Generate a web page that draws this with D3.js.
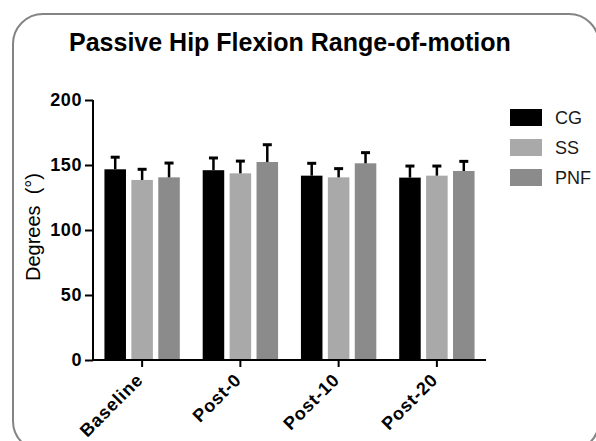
<!DOCTYPE html>
<html>
<head>
<meta charset="utf-8">
<script src="https://cdn.jsdelivr.net/npm/d3@7"></script>
<style>
  body { margin: 0; background: #fff; }
  text { font-family: "Liberation Sans", Arial, sans-serif; }
</style>
</head>
<body>
<div id="chart"></div>
<script>
const timepoints = ['Baseline', 'Post-0', 'Post-10', 'Post-20'];
const groups = ['CG', 'SS', 'PNF'];
const meanCG = [146.7, 146.0, 141.8, 140.3];
const meanSS = [138.5, 143.6, 140.5, 141.8];
const meanPNF = [140.5, 152.3, 151.3, 145.4];
const sdCG = [9.3, 9.4, 9.5, 8.9];
const sdSS = [8.2, 9.4, 6.7, 7.4];
const sdPNF = [11.0, 13.3, 8.2, 7.4];
const yTicks = [0, 50, 100, 150, 200];
const colors = ['#000000', '#a9a9a9', '#8b8b8b'];

function draw() {
  const dimensions = {
    width: 596,
    height: 441,
    margin: { top: 100, bottom: 81, left: 93, right: 110 },
  };
  dimensions.containerWidth = dimensions.width - dimensions.margin.left - dimensions.margin.right;
  dimensions.containerHeight = dimensions.height - dimensions.margin.top - dimensions.margin.bottom;

  const rows = timepoints.map((t, i) => ({
    time: t,
    values: [
      { group: 'CG', mean: meanCG[i], sd: sdCG[i] },
      { group: 'SS', mean: meanSS[i], sd: sdSS[i] },
      { group: 'PNF', mean: meanPNF[i], sd: sdPNF[i] },
    ],
  }));

  const svg = d3.select('#chart').append('svg').attr('width', dimensions.width).attr('height', dimensions.height);

  // rounded frame
  svg.append('rect')
    .attr('x', 13).attr('y', 14)
    .attr('width', 586).attr('height', 437)
    .attr('rx', 30).attr('ry', 30)
    .attr('fill', 'none').attr('stroke', '#848484').attr('stroke-width', 2);

  svg.append('text')
    .attr('x', 69).attr('y', 51)
    .attr('font-size', 25).attr('font-weight', 'bold')
    .attr('fill', '#000')
    .text('Passive Hip Flexion Range-of-motion');

  const container = svg.append('g').attr('transform', `translate(${dimensions.margin.left}, ${dimensions.margin.top})`);

  const xScale = d3.scaleBand().domain(timepoints).range([0, dimensions.containerWidth]);
  const xInner = d3.scaleBand().domain(groups).range([0, xScale.bandwidth()]).paddingInner(0.2).paddingOuter(0.425);
  const yScale = d3.scaleLinear().domain([0, 200]).range([dimensions.containerHeight, 0]);
  const color = d3.scaleOrdinal().domain(groups).range(colors);

  const groupSel = container.selectAll('g.grp')
    .data(rows)
    .join('g')
    .attr('class', 'grp')
    .attr('transform', (d) => `translate(${xScale(d.time)},0)`);

  groupSel.selectAll('rect')
    .data((d) => d.values)
    .join('rect')
    .attr('x', (d) => xInner(d.group))
    .attr('y', (d) => yScale(d.mean))
    .attr('width', xInner.bandwidth())
    .attr('height', (d) => yScale(0) - yScale(d.mean))
    .attr('fill', (d) => color(d.group));

  // upper error bars
  const err = groupSel.selectAll('g.err')
    .data((d) => d.values)
    .join('g')
    .attr('class', 'err')
    .attr('transform', (d) => `translate(${xInner(d.group) + xInner.bandwidth() / 2},0)`);
  err.append('line')
    .attr('y1', (d) => yScale(d.mean))
    .attr('y2', (d) => yScale(d.mean + d.sd))
    .attr('stroke', '#000').attr('stroke-width', 2.5);
  err.append('line')
    .attr('x1', -4.5).attr('x2', 4.5)
    .attr('y1', (d) => yScale(d.mean + d.sd))
    .attr('y2', (d) => yScale(d.mean + d.sd))
    .attr('stroke', '#000').attr('stroke-width', 3);

  const yAxis = d3.axisLeft(yScale).tickValues(yTicks).tickSize(8).tickPadding(3);
  const yAxisGroup = container.append('g').call(yAxis);
  yAxisGroup.select('.domain').attr('stroke-width', 2).attr('d', `M0,${dimensions.containerHeight + 1}V0`);
  yAxisGroup.selectAll('.tick line').attr('stroke-width', 2);
  yAxisGroup.selectAll('.tick text')
    .attr('font-size', 18).attr('font-weight', 'bold').attr('fill', '#000')
    .attr('font-family', '"Liberation Sans", Arial, sans-serif')
    .style('letter-spacing', '0.6px');

  const xAxis = d3.axisBottom(xScale).tickSize(7).tickSizeOuter(0);
  const xAxisGroup = container.append('g').call(xAxis).attr('transform', `translate(0, ${dimensions.containerHeight})`);
  xAxisGroup.select('.domain').attr('stroke-width', 2).attr('d', `M-1,0H${dimensions.containerWidth}`);
  xAxisGroup.selectAll('.tick line').attr('stroke-width', 2);
  xAxisGroup.selectAll('.tick text')
    .attr('font-size', 18).attr('font-weight', 'bold').attr('fill', '#000')
    .attr('font-family', '"Liberation Sans", Arial, sans-serif')
    .style('letter-spacing', '0.8px')
    .attr('text-anchor', 'end')
    .attr('dy', null)
    .attr('y', null)
    .attr('transform', 'translate(2, 21) rotate(-45)');

  yAxisGroup.append('text')
    .attr('x', -(dimensions.containerHeight / 2) + 3)
    .attr('y', -dimensions.margin.left + 40)
    .attr('fill', '#000')
    .attr('font-size', 20)
    .attr('text-anchor', 'middle')
    .attr('transform', 'rotate(-90)')
    .style('white-space', 'pre')
    .text('Degrees  (°)');

  // legend
  const legend = svg.append('g').attr('transform', 'translate(510, 109)');
  const item = legend.selectAll('g')
    .data(groups)
    .join('g')
    .attr('transform', (d, i) => `translate(0, ${i * 30})`);
  item.append('rect')
    .attr('width', 32).attr('height', 17)
    .attr('fill', (d) => color(d));
  item.append('text')
    .attr('x', 45).attr('y', 15)
    .attr('font-size', 18).attr('fill', '#1a1a1a')
    .text((d) => d);
}

draw();
</script>
</body>
</html>
